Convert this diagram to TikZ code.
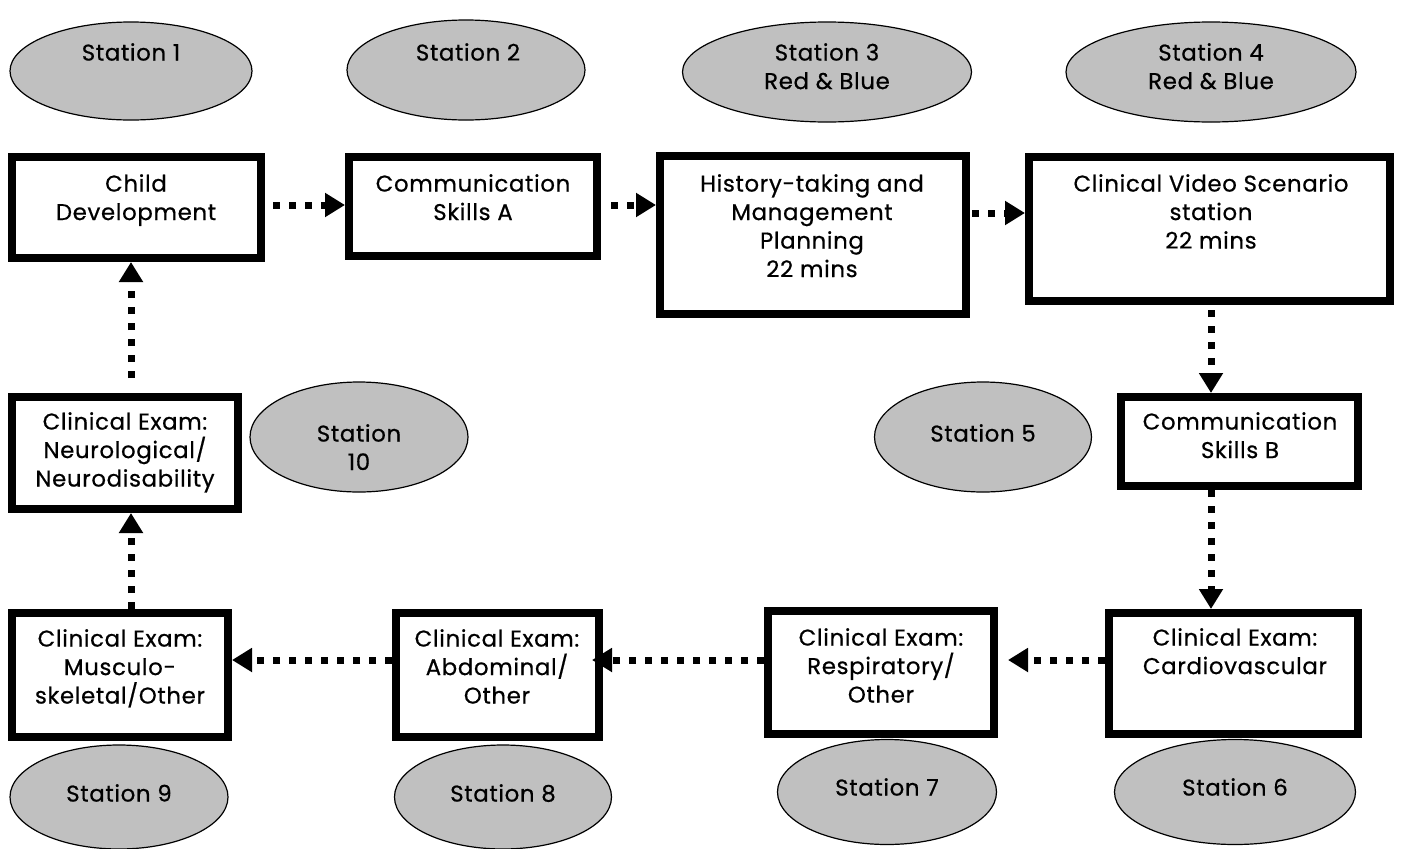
\documentclass[tikz,border=0pt]{standalone}
\usepackage{fontspec}
\setmainfont{Poppins}[LetterSpace=3,FakeBold=0.6]
\usetikzlibrary{arrows.meta,shapes.geometric}
\begin{document}
\begin{tikzpicture}[x=1pt,y=-1pt,
  stbox/.style={draw=black,line width=8pt,fill=white,rectangle,inner sep=0pt},
  station/.style={draw=black,line width=1.2pt,fill=stgray,ellipse,inner sep=0pt},
  txt/.style={anchor=north,align=center,inner sep=0pt,font=\fontsize{22.8}{28.5}\selectfont},
  flow/.style={line width=7pt,dash pattern=on 7pt off 9pt,-{Triangle[length=20pt,width=23pt]}}
]
\definecolor{stgray}{HTML}{C0C0C0}
\useasboundingbox (0,0) rectangle (1401,849);
% station ellipses
\node[station,minimum width=242pt,minimum height=98pt] (s1) at (131,71) {};
\node[station,minimum width=238pt,minimum height=100pt] (s2) at (466,70) {};
\node[station,minimum width=289pt,minimum height=100pt] (s3) at (827,72) {};
\node[station,minimum width=290pt,minimum height=100pt] (s4) at (1211,72) {};
\node[station,minimum width=217pt,minimum height=110pt] (s5) at (983,437) {};
\node[station,minimum width=218pt,minimum height=110pt] (s10) at (359,437) {};
\node[station,minimum width=218pt,minimum height=104pt] (s9) at (119,797) {};
\node[station,minimum width=217pt,minimum height=104pt] (s8) at (503,797) {};
\node[station,minimum width=219pt,minimum height=105pt] (s7) at (887,792) {};
\node[station,minimum width=241pt,minimum height=105pt] (s6) at (1235,792) {};
\node[txt] (t1) at (131,43) {Station 1};
\node[txt] (t2) at (468,43) {Station 2};
\node[txt] (t3) at (827,43) {Station 3\\Red \& Blue};
\node[txt] (t4) at (1211,43) {Station 4\\Red \& Blue};
\node[txt] (t5) at (983,424) {Station 5};
\node[txt] (t10) at (359,424) {Station\\10};
\node[txt] (t9) at (119,784) {Station 9};
\node[txt] (t8) at (503,784) {Station 8};
\node[txt] (t7) at (887,778) {Station 7};
\node[txt] (t6) at (1235,778) {Station 6};
% boxes
\node[stbox,minimum width=249pt,minimum height=101pt] (b1) at (136.5,207.5) {};
\node[stbox,minimum width=248pt,minimum height=99pt] (b2) at (473,206.5) {};
\node[stbox,minimum width=306pt,minimum height=158pt] (b3) at (813,235) {};
\node[stbox,minimum width=361pt,minimum height=144pt] (b4) at (1209.5,229) {};
\node[stbox,minimum width=237pt,minimum height=89pt] (b5) at (1239.5,441.5) {};
\node[stbox,minimum width=249pt,minimum height=121pt] (b6) at (1233.5,673.5) {};
\node[stbox,minimum width=226pt,minimum height=123pt] (b7) at (881,672.5) {};
\node[stbox,minimum width=203pt,minimum height=124pt] (b8) at (497.5,675) {};
\node[stbox,minimum width=216pt,minimum height=124pt] (b9) at (120,675) {};
\node[stbox,minimum width=226pt,minimum height=112pt] (b10) at (125,453) {};
\node[txt] (c1) at (136,174) {Child\\Development};
\node[txt] (c2) at (473,174) {Communication\\Skills A};
\node[txt] (c3) at (812,174) {History-taking and\\Management\\Planning\\22 mins};
\node[txt] (c4) at (1211,174) {Clinical Video Scenario\\station\\22 mins};
\node[txt] (c5) at (1240,412) {Communication\\Skills B};
\node[txt] (c6) at (1235,628) {Clinical Exam:\\Cardiovascular};
\node[txt] (c7) at (881,628) {Clinical Exam:\\Respiratory/\\Other};
\node[txt] (c8) at (497,629) {Clinical Exam:\\Abdominal/\\Other};
\node[txt] (c9) at (120,629) {Clinical Exam:\\Musculo-\\skeletal/Other};
\node[txt] (c10) at (125,412) {Clinical Exam:\\Neurological/\\Neurodisability};
% connectors
\draw[flow,shorten <=8pt] ([yshift=2.5pt]b1.east) -- ([yshift=1.5pt]b2.west);
\draw[flow,shorten <=10pt] ([yshift=1.5pt]b2.east) -- ([yshift=30pt]b3.west);
\draw[flow,shorten <=2pt] ([yshift=22pt]b3.east) -- ([yshift=16pt]b4.west);
\draw[flow,shorten <=5pt] ([xshift=1.5pt]b4.south) -- ([xshift=-28.5pt]b5.north);
\draw[flow] ([xshift=-28.5pt]b5.south) -- ([xshift=-22.5pt]b6.north);
\draw[flow,shorten >=10pt] ([yshift=13.5pt]b6.west) -- ([yshift=12.5pt]b7.east);
\draw[flow,shorten >=-11pt] ([yshift=12.5pt]b7.west) -- ([yshift=15pt]b8.east);
\draw[flow] ([yshift=15pt]b8.west) -- ([yshift=15pt]b9.east);
\draw[flow] ([xshift=11pt]b9.north) -- ([xshift=6pt]b10.south);
\draw[flow,shorten <=15pt] ([xshift=6pt]b10.north) -- ([xshift=-5.5pt]b1.south);
\end{tikzpicture}
\end{document}
